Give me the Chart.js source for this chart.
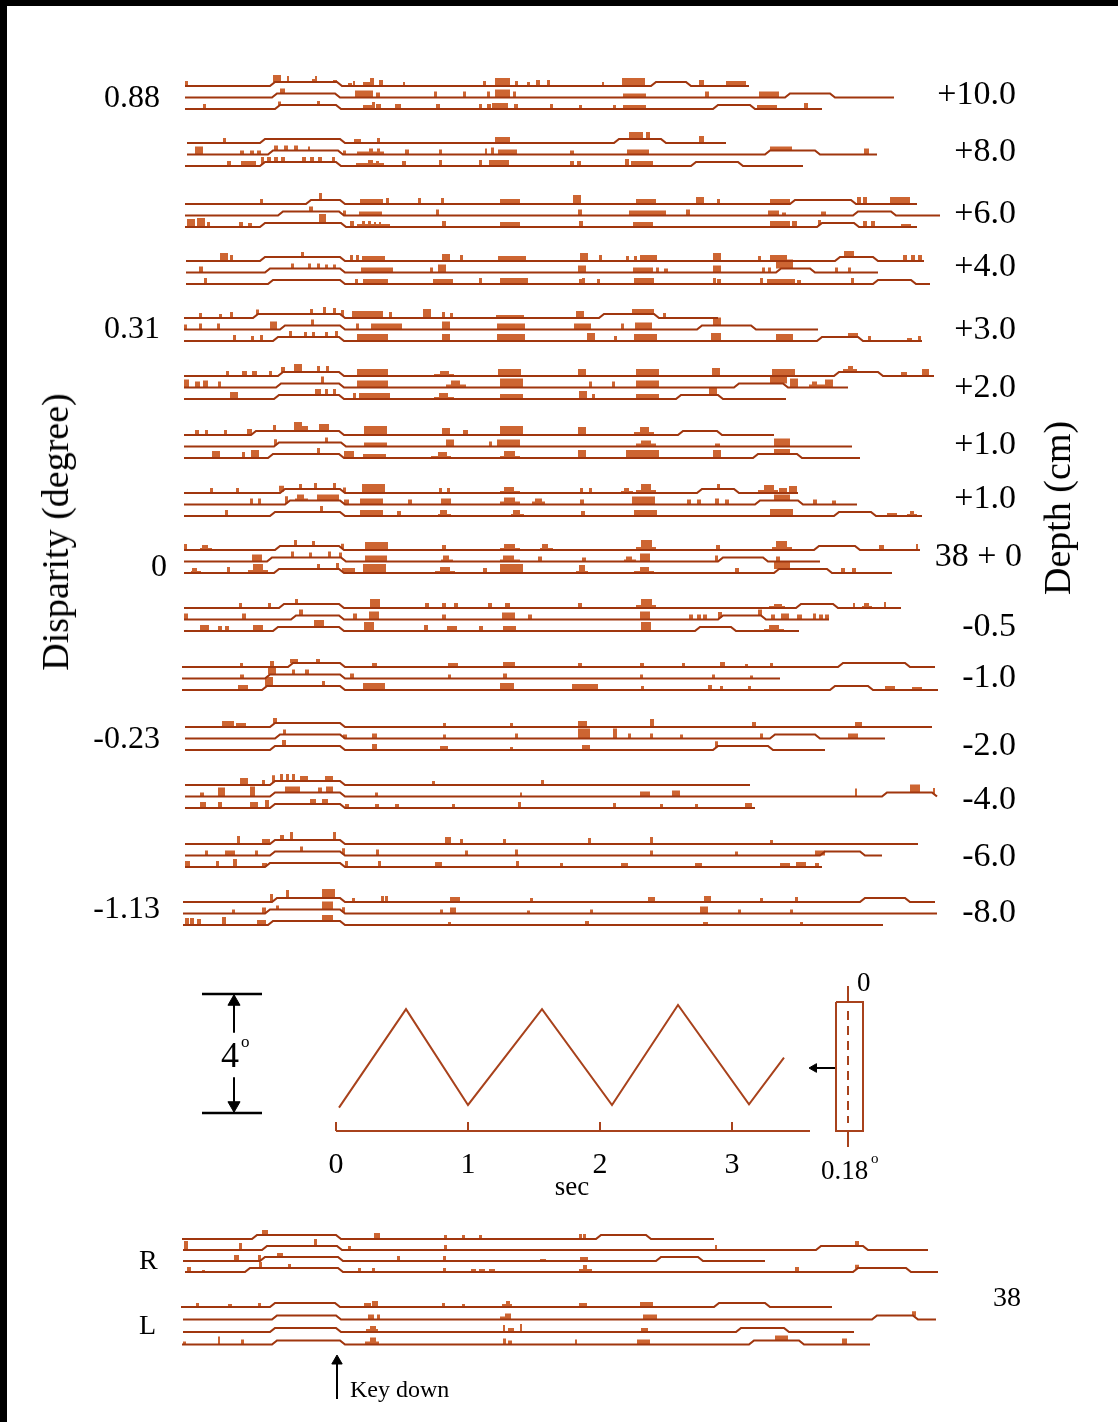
<!DOCTYPE html>
<html>
<head>
<meta charset="utf-8">
<script src="https://cdn.jsdelivr.net/npm/chart.js@4.4.1/dist/chart.umd.min.js"></script>
<style>
  html, body { margin: 0; padding: 0; background: #fff; }
  #wrap { position: relative; width: 1118px; height: 1422px; overflow: hidden;
          font-family: "Liberation Serif", "Times New Roman", serif; color: #000; }
  #wrap canvas { position: absolute; left: 0; top: 0; }
  .frame { position: absolute; background: #000; }
  .lbl { position: absolute; line-height: 1; white-space: nowrap; }
</style>
</head>
<body>
<div id="wrap">
  <canvas id="chart" width="1118" height="1422"></canvas>
  <div class="frame" style="left:0;top:0;width:1118px;height:6px"></div>
  <div class="frame" style="left:0;top:0;width:7px;height:1422px"></div>
</div>
<script>
// time is counted in histogram bins, 33 bins = 1 s (0 = stimulus onset / key down)
const BIN_PER_SEC = 33;

const disparityLabels = ['0.88', '', '', '', '0.31', '', '', '', '0', '', '', '-0.23', '', '', '-1.13'];
const depthLabels = ['+10.0', '+8.0', '+6.0', '+4.0', '+3.0', '+2.0', '+1.0', '+1.0', '38 + 0',
                     '-0.5', '-1.0', '-2.0', '-4.0', '-6.0', '-8.0'];

// one trial = [start, end, [raise on, raise off, ...], [bin, width, count, ...]]
const trials_p10 = [
  [-37.75, 103.25, [-16.5, 0.25, 78.75, 87.5], [-37.75,0.75,5, -15.75,2,7, -12.25,0.5,6, -6,0.75,3, -5.25,0.5,6, -0.75,1,2, 3,1,3, 4.25,0.5,5, 6.75,1.75,4, 8.5,1,8, 10.75,1,6, 16.75,0.5,4, 36.75,0.75,5, 39.75,3.75,8, 44.75,0.75,5, 47.75,0.75,4, 50,1,6, 52.75,0.75,6, 66.5,0.5,4, 71.5,5.75,8, 90.75,1.25,6, 97.5,5,5]],
  [-37.75, 139.5, [-16, -0.25, 112.25, 123.5], [-14,1.25,5, 4.75,4.5,7, 10,1,5, 24.5,0.75,6, 31.75,0.75,6, 37.75,0.75,6, 39.75,3.75,8, 44.25,0.75,6, 71.75,5.75,4, 92.25,1,6, 105.75,5,6]],
  [-37.75, 121.5, [-15.25, 0, 94.25, 103.5], [-33.25,0.75,5, -14.5,0.75,4, -4.75,0.75,4, 6.75,2.25,4, 9,0.75,7, 10,1.25,5, 14.75,1.5,5, 25,1,5, 35.75,0.75,5, 37.75,1,5, 39,4,6, 44.5,1,5, 53.5,0.75,5, 60.75,0.75,4, 69.25,0.75,4, 71.75,5.75,4, 105.25,5,4, 117,1,6]]
];
const trials_p8 = [
  [-37.25, 97.5, [-19, 1, 69.5, 81.25], [-28.25,0.75,5, 4.5,1.75,4, 10.25,0.75,5, 39.75,3.75,6, 73.25,3.5,7, 77.5,1,7, 90.75,1.25,7]],
  [-37.25, 135.25, [-17, 0.5, 107.25, 119.75], [-35.25,2,8, -24,1,4, -21.5,1,4, -19.75,1,4, -15.5,1,5, -13,1,5, -10.5,1,5, -7,0.5,4, 1.75,0.75,4, 5.25,6.75,3, 8.25,1,6, 10.25,0.75,6, 17.25,1,5, 25.75,0.75,5, 37.25,0.5,6, 38.75,0.75,7, 40.5,4.75,5, 58.5,1,4, 72.75,5.5,5, 108.5,5.5,4, 132,1.25,6]],
  [-37.75, 116.75, [-19, 0, 88.75, 100.5], [-27.25,1,5, -23.75,3.75,5, -18.75,0.75,7, -17.25,1,5, -15.5,1,5, -13.75,1,5, -8.5,1,5, -6.5,1,5, -4.5,1,5, -1,0.75,5, 5,7,3, 8,1.25,6, 10,0.75,5, 16.5,1,5, 25.75,0.75,6, 35.75,0.75,6, 38.25,5,6, 58.5,1,5, 60.25,1,5, 72.25,1,7, 73.75,5.5,5]]
];
const trials_p6 = [
  [-37.75, 145.25, [-7.5, 1, 113.5, 128.75], [-19,0.75,5, -4.25,0.75,7, 6,5.75,5, 12.5,0.75,6, 20.5,0.75,6, 26.25,0.75,6, 41,5,5, 59.25,2,9, 75,5,5, 90,2,7, 95.25,0.75,5, 108.5,5,5, 130.25,1,7, 131.75,1,7, 138.5,5,7]],
  [-37.75, 151, [-14.5, 0.75, 129.25, 138.75], [-6.75,1,5, 1.75,0.75,5, 5.75,5.75,4, 25,0.75,6, 60.5,1,6, 73.25,9.25,5, 87.5,1,6, 108,2.75,5, 111.5,1,3, 121.25,1.25,4]],
  [-37.75, 145.25, [-19, 1.25, 120.25, 129.5], [-37.25,2,8, -34.75,2,9, -32.25,0.75,5, -24.25,1,5, -22,1,4, -4.25,1.75,9, 3.5,1,6, 5.25,8.25,3, 6.5,0.75,6, 8,0.75,6, 9.5,0.5,5, 10.75,0.5,5, 26.5,1,6, 41,5,5, 60.75,1,6, 74.25,5,5, 108.5,5,6, 114,1.25,6, 120.5,0.75,5, 131.75,1,6, 133.75,1,6, 141.25,2.5,3]]
];
const trials_p4 = [
  [-37.5, 147, [-19, 1, 124.75, 134.25], [-29,2,8, -26.5,0.75,6, -8.75,0.75,5, 3.5,0.75,6, 5,0.75,6, 6.5,5.75,5, 26.5,2,7, 31,0.75,6, 40.5,7,5, 61,2,8, 65.75,0.75,6, 72.5,0.75,5, 74.5,0.75,5, 76,4.25,6, 94.25,2,8, 105.5,0.75,5, 108.5,4.25,6, 127,2.5,6, 141.75,1,6, 143.75,1,6, 145.5,1,6]],
  [-37.5, 135.5, [-17.75, 1, 110, 118.5], [-34.25,1,6, -11.25,0.75,5, -7,0.75,5, -4.75,0.75,5, -2.75,0.75,4, -0.75,0.75,4, 6.25,8,5, 23.5,0.75,5, 25.5,2,8, 60.5,2,7, 74.25,5,5, 80,0.75,5, 82,1,4, 94.25,2,7, 106.5,0.75,5, 108,0.75,5, 110,4.25,9, 124.75,0.75,5, 128,0.75,5]],
  [-37.5, 148.5, [-17, 1, 134.25, 143.75], [-33,0.75,6, 4.75,0.75,5, 6.75,6.25,5, 24.25,5,5, 35.75,0.75,6, 41,7,6, 60.75,0.75,5, 61.5,0.75,6, 65.25,0.75,5, 74.5,5,6, 94.25,0.75,6, 95.25,1,5, 106,0.75,6, 107.75,7,5, 115.25,1,4, 128.75,0.75,6]]
];
const trials_p3 = [
  [-38, 95.5, [-20.75, 1, 65.75, 79.5], [-34.25,0.75,5, -29.25,0.75,4, -26.5,0.75,6, -20,0.75,5, -6.5,0.75,5, -3.25,0.75,7, -0.75,0.75,6, 1.25,0.75,6, 4,7.75,7, 13.25,0.75,6, 21.75,2,9, 26.5,0.75,6, 28.5,0.75,5, 40,7,3, 60,2,7, 74,5.5,5, 81.75,0.75,5]],
  [-38, 120.5, [-14, 1, 90.25, 103.75], [-38,0.75,5, -34.25,0.75,6, -29.75,0.75,6, -16.5,1.75,8, -6.25,0.75,6, 5,0.75,6, 8.75,7.75,6, 26.5,2,8, 40.25,7,6, 59.5,4.25,6, 71.25,0.75,6, 74.75,4.25,7, 94.25,2,8]],
  [-38, 146.5, [-15.75, 0.75, 120.25, 130.5], [-25.75,0.75,6, -21.25,0.75,5, -19,0.75,6, -11.75,0.75,6, -8,0.75,5, -6,0.75,5, -2.75,0.75,5, -0.25,0.75,6, 5.25,7.75,7, 26.5,2,7, 40.25,7,7, 62.75,2,8, 69.5,0.75,5, 74.5,5.75,7, 93.75,2.5,8, 110,4.25,7, 128,2.5,4, 133,0.75,5, 142.75,1.25,3, 145.5,0.75,5]]
];
const trials_p2 = [
  [-38, 149.5, [-14.5, 0.75, 124.5, 135.5], [-27.5,0.75,5, -23.5,1.25,5, -21,1.25,5, -16.75,0.75,5, -13.75,1,5, -10.5,2,8, -4.75,0.75,6, -2.5,0.75,6, 5.25,7.75,7, 24.5,5,2, 26,2.25,5, 40.5,5.75,7, 60.5,2,7, 75,5.75,7, 94,2,8, 109,5.75,7, 126.75,3.5,3, 128,1.25,6, 141.25,1.5,4, 146.5,1.75,7]],
  [-38, 128, [-15, 0.75, 99.5, 111.75], [-38,1.25,8, -35.25,1.25,6, -33.25,1.25,7, -29.5,0.75,6, -3.75,0.75,7, 5.25,7.75,7, 27.5,5,3, 28.75,2.25,7, 41,5.75,9, 63.25,0.75,6, 69,0.75,6, 75,5.75,7, 108.5,4.25,7, 113.5,2,9, 118.25,4.25,3, 119,1.25,6, 122.25,2,8]],
  [-38, 112.5, [-15.5, 0.75, 85, 95.5], [-26.5,2,7, -5.25,1.5,6, -2.75,0.75,6, -0.75,0.75,6, 4.25,0.75,6, 5.75,7.75,6, 24.5,5,2, 25.75,2.25,6, 41,5.75,5, 60.75,2,8, 64,0.75,5, 75,5.75,5, 93.25,2,8]]
];
const trials_p1a = [
  [-38, 109.5, [-21.25, 0.75, 85.5, 95.25], [-35.25,1,5, -32.75,0.75,5, -28,0.75,5, -22.25,1.25,6, -15.75,0.75,6, -10.5,2,9, -8.5,1.5,5, -4.25,2.5,7, 7,5.75,9, 26.5,2,7, 31.75,1.25,5, 41,5.75,9, 60.5,2,8, 74.5,5,3, 76,2.25,8]],
  [-38, 129, [-15.5, 1.25], [-15.5,0.75,6, -2.75,0.75,5, 7,5.75,4, 27.5,2,7, 38.25,0.75,5, 40.25,5.75,7, 75,5,3, 76.25,2.5,6, 94.75,1.25,3, 109.5,4,8]],
  [-38, 131, [-17, 0.75, 104.25, 115.25], [-31,2,7, -23.5,0.75,6, -21.25,2,8, -4.75,0.75,6, 2,2.5,7, 6.75,5.75,4, 23.75,5,2, 25.5,2.25,6, 41,5,2, 42,2.75,7, 60.5,2,8, 72.5,8.25,8, 94.25,2,8, 109.5,4,5]]
];
const trials_p1b = [
  [-38, 115.5, [-14, 1, 90.25, 99.5], [-31.5,0.75,5, -25,0.75,5, -14.25,1.25,6, -9.25,0.75,5, -5.5,0.75,6, -0.75,0.75,6, 1.75,0.75,5, 6.5,5.75,9, 25.75,0.75,5, 27.75,0.75,5, 41,5,2, 42,2.5,6, 61,0.75,5, 63.25,0.75,5, 71.25,3,2, 72,1.25,5, 75,5,3, 76.25,2.5,9, 95.25,0.75,5, 105.5,5,3, 107,2.5,8, 110.75,2,5, 113.25,2,7]],
  [-38, 130.25, [-12.75, 1, 104.75, 115.5], [-21.5,0.75,6, -19.5,0.75,6, -12.75,0.75,7, -10.25,3.25,2, -9.75,1.75,6, -4.75,5.5,6, 2,1.25,5, 6,5.75,6, 18,1,5, 26.25,2.5,6, 41,5,3, 42,2.75,7, 49,3.25,3, 49.75,1.75,6, 61,1,5, 74,5.75,8, 87.75,1,5, 90.25,1,5, 94.75,1,6, 97.25,1,5, 109.5,4,6, 119.25,1,5, 124,1,4]],
  [-38, 146.5, [-16.5, 1, 124.5, 133.75], [-27.75,0.75,6, -4,0.75,6, 6,5.75,6, 15.25,1,5, 25.5,3.25,2, 26,1.75,6, 43.75,3.25,2, 44.25,1.75,6, 61.25,1,5, 74.5,5.75,6, 108.5,5.75,7, 137.75,2.5,3, 142.75,2.5,2, 143.5,1,5]]
];
const trials_38 = [
  [-38, 146, [-15.25, 0.75, 119.5, 129.75], [-38,0.75,6, -34,3,2, -33.5,1.5,5, -10.5,0.75,6, -6,0.75,5, 1.25,0.75,5, 7.25,5.75,8, 26.5,1,5, 41,5,2, 42,2.75,6, 51,3.25,2, 51.5,1.5,6, 75,5,3, 76.25,2.75,10, 95,1,5, 109,5,3, 110,2.75,9, 135.75,1.25,5, 145,0.5,6]],
  [-38, 121, [-17.25, 1.25, 95.5, 106.75], [-21,2.5,7, -11.25,0.75,6, -6.75,0.75,5, -2,0.75,6, 0.75,0.75,5, 7.25,5.5,6, 26.25,3,2, 26.75,1.5,6, 41,5,2, 41.75,2.75,6, 50.5,1,5, 61.5,1,4, 72,3,2, 72.5,1.5,5, 76,2.5,8, 94.75,0.75,6, 110,1,5]],
  [-38, 139, [-15.5, 0.75, 109.5, 122.75], [-36.25,2.5,2, -36,1.25,5, -27.25,0.75,6, -22,5,3, -20.75,2.5,9, -4.75,0.75,5, 0,0.75,6, 1.5,3.25,5, 6.75,5.75,9, 24.75,5,2, 26,2.5,6, 36.75,1,5, 41,5.75,9, 60,3,2, 60.75,1.5,8, 74.5,5,2, 76,2.25,6, 99.75,1,5, 109.5,4,7, 126.25,1,5, 129,1,5]]
];
const trials_m05 = [
  [-38, 141.25, [-14.25, 0.75, 115, 124.25], [-24.25,0.75,5, -17,0.75,5, -10.25,0.75,5, 8.5,2.5,9, 22.25,1,5, 26.5,1,5, 29.5,1,5, 38,1,5, 42.25,1.25,5, 60.5,1,5, 75,5,3, 76.25,2.75,9, 108.25,4,2, 109.5,2,4, 129.25,0.5,5, 131.5,2.5,2, 132,1.25,5, 137,0.5,6]],
  [-38, 123.25, [-11.25, 0.75, 95.5, 106.25], [-38,1,6, -23.5,1,6, -9.25,1,6, 4.25,1,6, 8.25,2.5,8, 26.5,1,5, 41.5,3.25,7, 48,1,5, 76,2.5,8, 88.25,1,5, 90.25,1,5, 91.75,1,5, 95.5,1,6, 105.5,1,6, 108.75,1,5, 111.25,2,6, 115.25,1.25,5, 119.25,0.75,6, 120.75,1,5, 122.25,1,5]],
  [-38, 115.75, [-15.75, 0.75, 89.75, 98.75], [-34,1.25,6, -32.75,1,6, -29.5,1,5, -27.75,1,5, -20.75,2.5,6, -5.5,2.5,7, 7,2.5,9, 22,1,6, 27.75,2.5,5, 35.75,1,5, 41.75,3.25,5, 76.25,2.5,9, 107,5,2, 108.25,2.5,6]]
];
const trials_m1 = [
  [-38.5, 149.75, [-12, 1, 125.5, 142.25], [-24,0.75,4, -16.5,1,6, -11.5,2,4, -5,1,4, 9,1.25,4, 28,2.5,4, 41.75,3,5, 60.5,1,4, 76,1,4, 86.5,0.75,4, 96,1.25,5, 102.25,0.75,3, 108.5,0.75,4]],
  [-38.5, 111, [-17.75, 1], [-24,1,4, -17,2,8, -11,0.75,5, -7.75,1,5, 3.5,1,5, 28,0.75,4, 41.75,1,5, 76,0.75,4, 94,0.75,4, 103.5,0.75,3]],
  [-38.5, 150.5, [-18.5, 1, 123.5, 133], [-24.5,2.5,5, -17.75,2,9, -3.5,0.75,5, 6.75,5.5,7, 41,3.5,7, 59,6.5,6, 76.25,0.75,4, 93,1,5, 96,0.75,4, 103,0.75,4, 137.25,2.5,4, 144,2.5,3]]
];
const trials_m2 = [
  [-37.75, 149, [-16.5, 1], [-28.5,3,6, -25,2.5,4, -15.75,1,5, 26.75,0.75,4, 43.5,0.75,4, 60.5,2.25,6, 78.5,1,8, 104,1,5, 129.75,1.75,5]],
  [-37.75, 137.25, [-15.25, 1, 108.5, 119.75], [-13.25,0.75,5, 1.75,1,4, 9,1.25,5, 26.75,0.75,4, 44.75,0.75,5, 60.5,3,10, 69.25,1,10, 73,0.75,5, 78.5,0.75,5, 86,0.75,4, 106,0.75,5, 128,2.5,5]],
  [-37.75, 122.25, [-16.5, 1, 94.25, 108], [-13.5,1,6, 9,1.25,6, 26,2,4, 43.5,0.75,3, 61.5,2,5, 94.75,0.75,6]]
];
const trials_m4 = [
  [-37.75, 103.5, [-16.5, 1], [-24,2,7, -18.5,0.75,5, -16,0.75,7, -14,0.75,7, -12.5,0.75,7, -11,0.75,7, -9,2,5, -2.75,2,5, 24,0.75,4, 51.25,0.75,5]],
  [-37.75, 150.25, [-16.5, 1, 136.5, 149], [-34,1,4, -29.5,1.75,9, -21.5,1.25,10, -12.75,3.75,6, -4.5,1,5, -2.5,1.75,6, 9.75,0.75,4, 46,0.5,4, 76,2.5,5, 84,2,6, 129.75,0.5,8, 143.5,2.5,8, 149.25,0.5,6]],
  [-37.75, 104.75, [-16.5, 1], [-34,1.5,6, -29.5,1,6, -21.5,2,6, -17.75,1,8, -6.5,1.5,5, -3.5,1.5,5, 2.25,1,4, 9.75,1,4, 14.75,1,4, 29,0.75,4, 45.5,0.75,6, 69.25,0.75,5, 81,0.75,4, 89.75,0.75,4, 102.25,1.75,5]]
];
const trials_m6 = [
  [-37.75, 145.5, [-16.5, 1], [-24.75,0.75,8, -18.5,2,5, -14,1,5, -11.5,0.75,8, -0.75,0.75,8, 27.25,1.5,7, 31,0.75,5, 41.75,0.75,5, 63,0.75,6, 78.5,0.75,7, 108.5,0.75,4]],
  [-37.75, 136.5, [-16.5, 1, 121, 131], [-32.75,0.75,5, -27.75,2.5,5, -20.25,0.75,5, -9,0.75,5, 1.5,0.75,6, 10,0.75,6, 32.25,0.75,5, 44.75,0.75,6, 78.5,0.75,5, 99.75,0.75,4, 119.75,2.5,5]],
  [-37.75, 121.5, [-17.75, 1], [-37.75,1.25,6, -30,0.75,6, -25.75,1,8, -18.5,1.25,4, 2.25,0.75,6, 10.5,0.75,6, 24.75,1.75,5, 45,0.75,6, 56,0.75,4, 71.25,1.75,4, 89.75,1.75,4, 111,2.5,4, 115,2.5,5, 119.75,1,4]]
];
const trials_m8 = [
  [-38.25, 149.75, [-16, 1, 131, 142.25], [-16.5,0.75,8, -12.5,0.75,8, -3.5,3.25,9, 4,0.75,4, 11.25,0.75,6, 12.25,0.75,6, 28.5,2.5,5, 48.5,0.75,4, 78,1.75,5, 92,1.75,6, 106,0.75,4, 114.75,0.75,5]],
  [-38.25, 150.25, [-17.75, 1], [-26,0.75,4, -18.5,1,6, -15,0.75,4, -3.5,2.75,8, 1.5,0.75,5, 26,0.75,4, 28.5,1.5,6, 47.75,0.75,3, 63.5,0.75,4, 91,2,7, 100.5,0.75,4, 113.5,0.75,4]],
  [-38.25, 136.75, [-17, 1], [-37.75,1,7, -36.5,1,7, -34.75,1,6, -28.5,1,8, -19.75,2.25,5, -3.5,2.75,6, 28,0.75,3, 62.25,1,4, 91.75,1.25,3, 116,0.75,3]]
];
// monocular control at 38 cm: right eye, left eye
const trials_R = [
  [-38.5, 94.5, [-21, 0, 65, 77.5], [-18.5,1.5,5, 9.5,1.5,6, 27,0.75,4, 31.5,0.75,4, 35.75,0.75,4, 60.75,0.75,5, 61.75,0.75,5]],
  [-38.25, 148, [-18.5, 0.25, 120, 131.75], [-38,1,9, -24.25,0.75,7, -5.5,0.75,7, 3,0.75,4, 27,0.75,5, 94.75,0.5,5, 129.75,1,5]],
  [-38.25, 107.25, [-19, 0.5, 80, 90.5], [-25.5,1.25,6, -19.5,0.75,6, -14.75,1.5,4, 15.25,0.75,5, 26.75,0.75,5, 51,1.5,2, 61,2,4]],
  [-37.75, 150.5, [-22.75, 0.5, 129.25, 142.5], [-37.25,1,5, -33.5,0.75,2, -19.25,0.75,6, -12,0.75,4, 5.5,0.75,4, 9,0.75,4, 26.75,0.75,4, 33.75,1.25,3, 35.75,1.5,3, 38.25,1.5,3, 60.75,3.25,3, 61.75,1,7, 114.75,1,5, 129.75,1,4]]
];
const trials_L = [
  [-38.75, 124, [-16.5, -0.25, 94.5, 107.25], [-35,0.75,4, -27,1,3, -19.5,0.75,4, 7,1.75,4, 9,1.5,6, 26.5,0.75,4, 31.5,0.75,3, 41.5,2.5,3, 42.5,1,6, 60.75,2,4, 76,3.25,5]],
  [-38.25, 150, [-16, 0, 134, 144.25], [8,1.5,5, 10.25,0.75,5, 41,2.5,3, 42.25,1.5,6, 76.75,3.5,5, 144,1,5]],
  [-38.25, 129.5, [-16.5, 0, 100, 112], [7.5,3,3, 8.5,1.5,6, 41.75,0.5,7, 43,1.5,4, 46,0.5,8, 76.25,1.75,4]],
  [-38.5, 133.5, [-16, 1, 103.25, 115.75], [-38.25,0.75,3, -29.5,0.5,8, -23.75,0.75,5, 7.25,3.5,3, 8.5,1.5,7, 41.75,0.75,6, 43,1,4, 59.75,0.5,5, 75.25,3.25,5, 109.75,3.25,5, 126.5,1.25,6]]
];

// stimulus: disparity ramp (degrees) against time (bins)
const stimTime = [0.75, 17.5, 33, 51.5, 69, 85.5, 103.25, 112];
const stimDeg = [0.18, 3.49, 0.27, 3.49, 0.27, 3.63, 0.29, 1.86];
const timeTicks = [0, 1, 2, 3];
const scaleBarDeg = [0, 4];

const depthGroups = [trials_p10, trials_p8, trials_p6, trials_p4, trials_p3, trials_p2, trials_p1a, trials_p1b,
                     trials_38, trials_m05, trials_m1, trials_m2, trials_m4, trials_m6, trials_m8];

// ---- layout and style ----
const lineColor = '#a0360e';
const barColor = '#cd6532';
const stimColor = '#a8421c';
const groupTop = [86, 143, 204, 261, 318, 376, 435, 493, 550, 608, 667, 727, 785, 844, 902];
const trialGap = 11.5;
const rise = 4, ramp = 1.25;

function levelAt(tr, base, x) {
  const up = tr[2];
  let lv = base;
  for (let i = 0; i < up.length; i += 2) {
    const a = up[i], b = up[i + 1];
    if (x >= a && x <= a + ramp) lv = base - rise * (x - a) / ramp;
    else if (x > a + ramp && x <= b) lv = base - rise;
    else if (x > b && x < b + ramp) lv = base - rise * (1 - (x - b) / ramp);
  }
  return lv;
}
function linePoints(tr, base) {
  const xs = [tr[0]];
  for (let i = 0; i < tr[2].length; i += 2) xs.push(tr[2][i], tr[2][i] + ramp, tr[2][i + 1], tr[2][i + 1] + ramp);
  xs.push(tr[1]);
  return xs.filter(x => x >= tr[0] && x <= tr[1]).map(x => ({x: x, y: levelAt(tr, base, x)}));
}
function barPoints(tr, base) {
  const sp = tr[3], pts = [];
  for (let i = 0; i < sp.length; i += 3) {
    const x0 = sp[i], x1 = sp[i] + sp[i + 1], h = sp[i + 2];
    const lv = levelAt(tr, base, (x0 + x1) / 2);
    pts.push({x: x0, y: lv}, {x: x0, y: lv - h}, {x: x1, y: lv - h}, {x: x1, y: lv}, {x: x1, y: null});
  }
  return pts;
}

const datasets = [];
function addTrials(trials, top, gap) {
  trials.forEach((tr, j) => {
    const base = top + j * gap;
    datasets.push({data: linePoints(tr, base), borderColor: lineColor, borderWidth: 2.2, pointRadius: 0, fill: false, order: 1});
    datasets.push({data: barPoints(tr, base), backgroundColor: barColor, borderWidth: 0, pointRadius: 0, fill: 'shape', spanGaps: false, order: 2});
  });
}
depthGroups.forEach((g, i) => addTrials(g, groupTop[i], trialGap));
addTrials(trials_R, 1239, 11);
addTrials(trials_L, 1307, 12.5);

function seg(pts, color, width, extra) {
  return Object.assign({data: pts, borderColor: color, borderWidth: width, pointRadius: 0, fill: false, spanGaps: false}, extra || {});
}
function head(x, y, rot, r, axis) {
  return {data: [{x: x, y: y}], yAxisID: axis, showLine: false, pointStyle: 'triangle', pointRadius: r,
          pointRotation: rot, backgroundColor: '#000', borderColor: '#000', borderWidth: 1};
}

// stimulus trace and 4 deg scale bar
datasets.push(seg(stimTime.map((t, i) => ({x: t, y: stimDeg[i]})), stimColor, 2, {yAxisID: 'yStim'}));
const barX = [-33.5, -18.5], arrowX = -25.5;
scaleBarDeg.forEach(d => datasets.push(seg([{x: barX[0], y: d}, {x: barX[1], y: d}], '#000', 2.5, {yAxisID: 'yStim'})));
datasets.push(seg([{x: arrowX, y: 3.75}, {x: arrowX, y: 2.7}], '#000', 2, {yAxisID: 'yStim'}));
datasets.push(seg([{x: arrowX, y: 1.2}, {x: arrowX, y: 0.25}], '#000', 2, {yAxisID: 'yStim'}));
datasets.push(head(arrowX, scaleBarDeg[1] - 0.26, 0, 7, 'yStim'));
datasets.push(head(arrowX, scaleBarDeg[0] + 0.26, 180, 7, 'yStim'));

// time axis line with second ticks
const axisY = 1131, axisEnd = 118.5;
datasets.push(seg([{x: 0, y: axisY}, {x: axisEnd, y: axisY}], stimColor, 2));
const tickPts = [];
timeTicks.forEach(t => tickPts.push({x: t * BIN_PER_SEC, y: axisY}, {x: t * BIN_PER_SEC, y: axisY - 9}, {x: t * BIN_PER_SEC, y: null}));
datasets.push(seg(tickPts, stimColor, 2));

// display box with fixation line and pointer
const boxL = 125, boxR = 131.75, boxMid = 128, boxTop = 1002;
datasets.push(seg([{x: boxL, y: boxTop}, {x: boxR, y: boxTop}, {x: boxR, y: axisY}, {x: boxL, y: axisY}, {x: boxL, y: boxTop}], stimColor, 2));
datasets.push(seg([{x: boxMid, y: 986}, {x: boxMid, y: boxTop}, {x: boxMid, y: null}, {x: boxMid, y: axisY}, {x: boxMid, y: 1147}], stimColor, 2));
datasets.push(seg([{x: boxMid, y: 1011}, {x: boxMid, y: 1123}], stimColor, 2, {borderDash: [9, 6]}));
datasets.push(seg([{x: boxL, y: 1068}, {x: 119, y: 1068}], '#000', 2));
datasets.push(head(119.5, 1068, 270, 5, 'y'));

// key down marker
datasets.push(seg([{x: 0.25, y: 1399}, {x: 0.25, y: 1362}], '#000', 2));
datasets.push(head(0.25, 1361, 0, 6, 'y'));

new Chart(document.getElementById('chart'), {
  type: 'line',
  data: {datasets: datasets},
  options: {
    responsive: false,
    devicePixelRatio: 1,
    animation: false,
    events: [],
    layout: {padding: 0, autoPadding: false},
    plugins: {legend: {display: false}, tooltip: {enabled: false}},
    elements: {line: {tension: 0}},
    scales: {
      x: {type: 'linear', min: -84, max: 195.5, display: false},
      y: {type: 'linear', min: 0, max: 1422, reverse: true, display: false},
      yStim: {type: 'linear', min: -(1422 - 1113) / 29.75, max: 1113 / 29.75, display: false},
      xs: {
        type: 'linear', position: {y: axisY}, min: -84 / BIN_PER_SEC, max: 195.5 / BIN_PER_SEC,
        afterBuildTicks: s => { s.ticks = timeTicks.map(v => ({value: v})); },
        ticks: {color: '#000', padding: 8, autoSkip: false, maxRotation: 0,
                font: {family: 'Liberation Serif', size: 30}, callback: v => String(v)},
        grid: {display: false}, border: {display: false}
      }
    }
  }
});

// ---- text ----
const wrap = document.getElementById('wrap');
function label(text, x, y, size, anchor, rot) {
  const d = document.createElement('div');
  d.className = 'lbl';
  d.textContent = text;
  d.style.left = x + 'px';
  d.style.top = y + 'px';
  d.style.fontSize = size + 'px';
  const tx = anchor === 'right' ? '-100%' : anchor === 'center' ? '-50%' : '0';
  d.style.transform = 'translate(' + tx + ', -50%)' + (rot ? ' rotate(' + rot + 'deg)' : '');
  wrap.appendChild(d);
}
const dispRight = [160, 0, 0, 0, 160, 0, 0, 0, 167, 0, 0, 160, 0, 0, 160];
const dispY = [96, 0, 0, 0, 327, 0, 0, 0, 565, 0, 0, 737, 0, 0, 907];
disparityLabels.forEach((t, i) => { if (t) label(t, dispRight[i], dispY[i], 32, 'right'); });
const depthRight = [1016, 1016, 1016, 1016, 1016, 1016, 1016, 1016, 1022, 1016, 1016, 1016, 1016, 1016, 1016];
const depthY = [93, 150, 212, 265, 328, 386, 443, 497, 555, 625, 676, 744, 798, 855, 911];
depthLabels.forEach((t, i) => label(t, depthRight[i], depthY[i], 34, 'right'));
label('Disparity (degree)', 55, 532, 38, 'center', -90);
label('Depth (cm)', 1057, 508, 38, 'center', -90);
label('4', 230, 1055, 36, 'center');
label('o', 241, 1041, 17, 'left');
label('sec', 572, 1186, 27, 'center');
label('0', 857, 982, 27, 'left');
label('0.18', 821, 1170, 27, 'left');
label('o', 871, 1158, 15, 'left');
label('R', 139, 1260, 28, 'left');
label('L', 139, 1325, 28, 'left');
label('38', 993, 1297, 28, 'left');
label('Key down', 350, 1389, 24, 'left');
</script>
</body>
</html>
